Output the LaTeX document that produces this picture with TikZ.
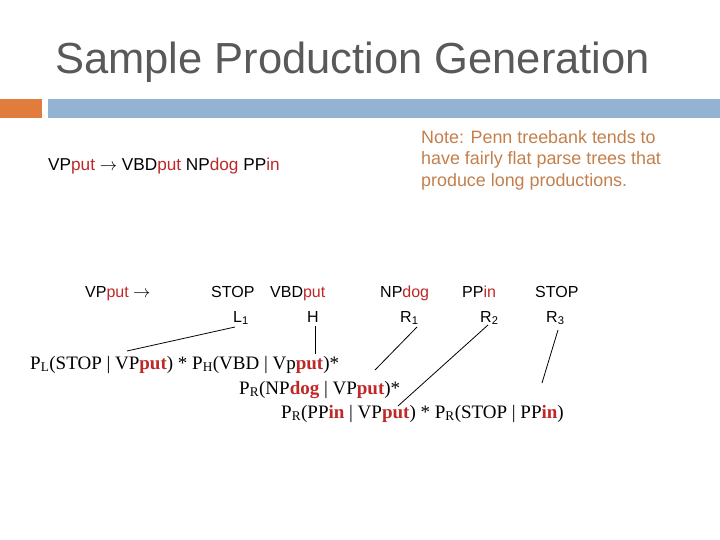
\documentclass[tikz,border=0pt]{standalone}
\usepackage{fontspec}
\setmainfont{Liberation Serif}
\setsansfont{Liberation Sans}
\begin{document}
\begin{tikzpicture}[x=1pt,y=-1pt,
  sf/.style={font=\sffamily\fontsize{16}{19}\selectfont,inner sep=0pt,anchor=base west},
  rm/.style={font=\rmfamily\fontsize{19}{23}\selectfont,inner sep=0pt,anchor=base west},
  lab/.style={font=\sffamily\fontsize{16}{19}\selectfont,inner sep=0pt,anchor=base west},
  ln/.style={line width=0.8pt}]
\definecolor{rd}{RGB}{192,40,40}
\definecolor{tg}{RGB}{89,89,89}
\definecolor{org}{RGB}{224,125,60}
\definecolor{blu}{RGB}{148,179,210}
\definecolor{note}{RGB}{196,128,76}
\newcommand{\rr}[1]{\textcolor{rd}{#1}}
\useasboundingbox (0,0) rectangle (720,540);
\fill[white] (0,0) rectangle (720,540);
\node[anchor=base west,inner sep=0pt,text=tg,font=\sffamily\fontsize{43.5}{48}\selectfont] (title) at (55,74) {Sample Production Generation};
\fill[org] (0,99) rectangle (42,118);
\fill[blu] (48,99) rectangle (720,118);
\node[sf,font=\sffamily\fontsize{17.2}{20}\selectfont] (rule) at (48,171) {VP\rr{put} $\rightarrow$ VBD\rr{put} NP\rr{dog} PP\rr{in}};
\node[sf,text=note,align=left,anchor=north west,font=\sffamily\fontsize{17.9}{21.7}\selectfont] (note) at (421,130) {Note: Penn treebank tends to\\have fairly flat parse trees that\\produce long productions.};
\node[sf] (vp) at (85,297) {VP\rr{put} $\rightarrow$};
\node[sf] (stop1) at (211,297) {STOP};
\node[sf] (vbd) at (270,297) {VBD\rr{put}};
\node[sf] (np) at (380,297) {NP\rr{dog}};
\node[sf] (pp) at (462,297) {PP\rr{in}};
\node[sf] (stop2) at (535,297) {STOP};
\node[lab] (l1) at (233,322) {L\textsubscript{1}};
\node[lab] (h) at (307,322) {H};
\node[lab] (r1) at (400,322) {R\textsubscript{1}};
\node[lab] (r2) at (480,322) {R\textsubscript{2}};
\node[lab] (r3) at (546,322) {R\textsubscript{3}};
\node[rm] (f1) at (30,369) {P\textsubscript{L}(STOP | VP\textbf{\rr{put}}) * P\textsubscript{H}(VBD | Vp\textbf{\rr{put}})*};
\node[rm] (f2) at (239,394) {P\textsubscript{R}(NP\textbf{\rr{dog}} | VP\textbf{\rr{put}})*};
\node[rm] (f3) at (281,418) {P\textsubscript{R}(PP\textbf{\rr{in}} | VP\textbf{\rr{put}}) * P\textsubscript{R}(STOP | PP\textbf{\rr{in}})};
\coordinate (a1) at (235,327); \coordinate (b1) at (127,351);
\coordinate (a2) at (315,326); \coordinate (b2) at (315,354);
\coordinate (a3) at (417,327); \coordinate (b3) at (375,370);
\coordinate (a4) at (488,325); \coordinate (b4) at (398,406);
\coordinate (a5) at (558,330); \coordinate (b5) at (542,383);
\draw[ln] (a1) -- (b1);
\draw[ln] (a2) -- (b2);
\draw[ln] (a3) -- (b3);
\draw[ln] (a4) -- (b4);
\draw[ln] (a5) -- (b5);
\end{tikzpicture}
\end{document}
